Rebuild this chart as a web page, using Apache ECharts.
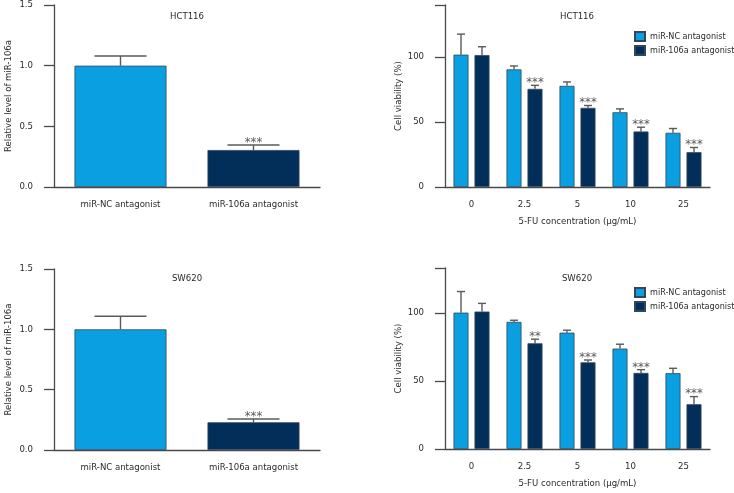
<!DOCTYPE html>
<html>
<head>
<meta charset="utf-8">
<script src="https://cdn.jsdelivr.net/npm/echarts@6/dist/echarts.min.js"></script>
<style>html,body{margin:0;padding:0;background:#fff;}#c{width:734px;height:493px;}</style>
</head>
<body>
<div id="c"></div>
<script>
// ---- data ----
var groupCats = ['miR-NC antagonist', 'miR-106a antagonist'];
var hctLevel = [1.0, 0.305];
var hctLevelSD = [0.08, 0.041];
var hctLevelStars = ['', '***'];
var swLevel = [1.0, 0.23];
var swLevelSD = [0.108, 0.027];
var swLevelStars = ['', '***'];

var concCats = ['0', '2.5', '5', '10', '25'];
var hctNC = [101.8, 90.5, 77.8, 57.5, 41.7];
var hctNCsd = [15.8, 2.6, 3.0, 2.6, 3.3];
var hctAnt = [101.5, 75.5, 60.9, 42.7, 26.8];
var hctAntSd = [6.4, 2.7, 1.8, 3.3, 3.6];
var hctStars = ['', '***', '***', '***', '***'];
var swNC = [100.2, 93.4, 85.5, 73.8, 55.7];
var swNCsd = [15.5, 1.2, 1.8, 3.2, 3.6];
var swAnt = [101.0, 77.7, 63.7, 55.9, 32.9];
var swAntSd = [6.0, 3.0, 1.7, 2.4, 5.6];
var swStars = ['', '**', '***', '***', '***'];

var seriesNames = ['miR-NC antagonist', 'miR-106a antagonist'];
var titles = ['HCT116', 'SW620'];
var yNameLeft = 'Relative level of miR-106a';
var yNameRight = 'Cell viability (%)';
var xNameRight = '5-FU concentration (μg/mL)';

// ---- style ----
var FONT = "'DejaVu Sans Condensed', 'Liberation Sans Narrow', sans-serif";
var FS = 9.5;
var LIGHT = '#0a9fe0';
var DARK = '#022f5a';
var AX = '#4a4a4a';
var TXT = '#2b2b2b';

var chart = echarts.init(document.getElementById('c'));

function errRender(offset, capW, stars) {
  return function (params, api) {
    var ci = api.value(0), v = api.value(1), sd = api.value(2);
    var b = api.coord([ci, v]);
    var t = api.coord([ci, v + sd]);
    var x = b[0] + offset;
    var children = [
      { type: 'line', shape: { x1: x, y1: b[1], x2: x, y2: t[1] }, style: { stroke: '#5a5a5a', lineWidth: 1.4 } },
      { type: 'line', shape: { x1: x - capW / 2, y1: t[1], x2: x + capW / 2, y2: t[1] }, style: { stroke: '#5a5a5a', lineWidth: 1.4 } }
    ];
    var s = stars ? stars[params.dataIndex] : '';
    if (s) {
      children.push({ type: 'text', x: x, y: t[1] - 9, style: { text: s, fill: '#5a5a5a', font: '13px ' + FONT, textAlign: 'center', textVerticalAlign: 'top' } });
    }
    return { type: 'group', children: children };
  };
}

function errData(sd, vals) {
  return vals.map(function (v, i) { return [i, v, sd[i]]; });
}

var grids = [
  { left: 54, width: 266, top: 5, height: 182 },
  { left: 54, width: 266, top: 269, height: 181 },
  { left: 445, width: 265, top: 5, height: 182 },
  { left: 445, width: 265, top: 268, height: 181 }
];

function xCat(gi, cats, name) {
  return {
    type: 'category', gridIndex: gi, data: cats,
    name: name || '', nameLocation: 'middle', nameGap: 30,
    nameTextStyle: { fontFamily: FONT, fontSize: FS, color: TXT },
    axisLine: { lineStyle: { color: AX, width: 1.3 } },
    axisTick: { alignWithLabel: true, length: 7, lineStyle: { color: AX, width: 1.3 } },
    axisLabel: { interval: 0, fontFamily: FONT, fontSize: FS, color: TXT, margin: 13 }
  };
}
function yVal(gi, max, interval, name, dec, gap) {
  return {
    type: 'value', gridIndex: gi, min: 0, max: max, interval: interval,
    name: name, nameLocation: 'middle', nameGap: gap,
    nameTextStyle: { fontFamily: FONT, fontSize: FS, color: TXT },
    splitLine: { show: false },
    axisLine: { show: true, lineStyle: { color: AX, width: 1.3 } },
    axisTick: { show: true, length: 10, lineStyle: { color: AX, width: 1.3 } },
    axisLabel: {
      fontFamily: FONT, fontSize: FS, color: TXT, margin: 21,
      formatter: function (v) {
        if (Math.abs(v / interval - Math.round(v / interval)) > 1e-6) return '';
        return dec ? v.toFixed(dec) : String(v);
      }
    }
  };
}

function levelBars(gi, vals) {
  return {
    type: 'bar', xAxisIndex: gi, yAxisIndex: gi, barWidth: 92,
    data: vals.map(function (v, i) {
      return { value: v, itemStyle: { color: i === 0 ? LIGHT : DARK } };
    }),
    itemStyle: { borderColor: '#33475b', borderWidth: 0.8 },
    silent: true, z: 2
  };
}

var series = [
  levelBars(0, hctLevel),
  { type: 'custom', xAxisIndex: 0, yAxisIndex: 0, renderItem: errRender(0, 52, hctLevelStars), data: errData(hctLevelSD, hctLevel), z: 1, silent: true },
  levelBars(1, swLevel),
  { type: 'custom', xAxisIndex: 1, yAxisIndex: 1, renderItem: errRender(0, 52, swLevelStars), data: errData(swLevelSD, swLevel), z: 1, silent: true }
];

function groupPanel(gi, nc, ncSd, ant, antSd, stars) {
  return [
    { type: 'bar', name: seriesNames[0], xAxisIndex: gi, yAxisIndex: gi, barWidth: 15, barGap: '40%', data: nc,
      itemStyle: { color: LIGHT, borderColor: '#33475b', borderWidth: 0.8 }, z: 2, silent: true },
    { type: 'bar', name: seriesNames[1], xAxisIndex: gi, yAxisIndex: gi, barWidth: 15, barGap: '40%', data: ant,
      itemStyle: { color: DARK, borderColor: '#33475b', borderWidth: 0.8 }, z: 2, silent: true },
    { type: 'custom', xAxisIndex: gi, yAxisIndex: gi, renderItem: errRender(-10.5, 8, null), data: errData(ncSd, nc), z: 1, silent: true },
    { type: 'custom', xAxisIndex: gi, yAxisIndex: gi, renderItem: errRender(10.5, 8, stars), data: errData(antSd, ant), z: 1, silent: true }
  ];
}
series = series.concat(groupPanel(2, hctNC, hctNCsd, hctAnt, hctAntSd, hctStars));
series = series.concat(groupPanel(3, swNC, swNCsd, swAnt, swAntSd, swStars));

function legend(top) {
  return {
    data: seriesNames, orient: 'vertical', left: 634, top: top, padding: 0,
    itemWidth: 10, itemHeight: 9, itemGap: 3, icon: 'rect',
    textStyle: { fontFamily: FONT, fontSize: 9, color: TXT },
    selectedMode: false
  };
}

function title(text, x, y) {
  return { text: text, left: x, top: y, padding: 0, textAlign: 'center',
    textStyle: { fontFamily: FONT, fontSize: FS, fontWeight: 'normal', color: TXT } };
}

chart.setOption({
  animation: false,
  textStyle: { fontFamily: FONT },
  title: [title(titles[0], 187, 12), title(titles[1], 187, 274), title(titles[0], 577, 12), title(titles[1], 577, 274)],
  legend: [legend(31), legend(287)],
  grid: grids,
  xAxis: [
    xCat(0, groupCats), xCat(1, groupCats),
    xCat(2, concCats, xNameRight), xCat(3, concCats, xNameRight)
  ],
  yAxis: [
    yVal(0, 1.5, 0.5, yNameLeft, 1, 40),
    yVal(1, 1.5, 0.5, yNameLeft, 1, 40),
    yVal(2, 140, 50, yNameRight, 0, 38),
    yVal(3, 133, 50, yNameRight, 0, 38)
  ],
  series: series
});
</script>
</body>
</html>
